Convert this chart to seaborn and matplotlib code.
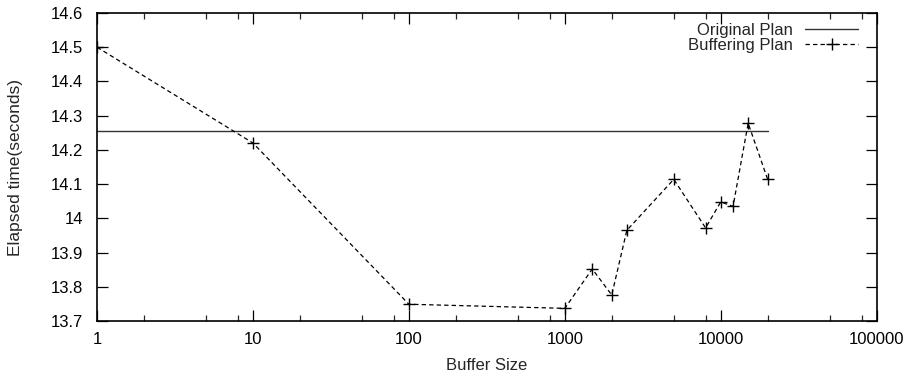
import matplotlib
matplotlib.use("Agg")
import matplotlib.pyplot as plt
import matplotlib.ticker as mticker
import seaborn as sns
import pandas as pd

buffer_sizes = [1, 10, 100, 1000, 1500, 2000, 2500, 5000, 8000, 10000, 12000, 15000, 20000]
buffering_times = [14.50, 14.22, 13.749, 13.737, 13.852, 13.776, 13.965, 14.114, 13.972, 14.048, 14.035, 14.278, 14.114]
original_x = [1, 20000]
original_times = [14.255, 14.255]
x_ticks = [1, 10, 100, 1000, 10000, 100000]
x_tick_labels = ["1", "10", "100", "1000", "10000", "100000"]
y_ticks = [13.7, 13.8, 13.9, 14.0, 14.1, 14.2, 14.3, 14.4, 14.5, 14.6]
y_tick_labels = ["13.7", "13.8", "13.9", "14", "14.1", "14.2", "14.3", "14.4", "14.5", "14.6"]

sns.set_theme(style="ticks")
plt.rcParams["font.family"] = ["Liberation Sans", "DejaVu Sans"]

fig = plt.figure(figsize=(9.16, 3.77), dpi=100)
ax = fig.add_axes([0.106, 0.1485, 0.851, 0.817])

df_orig = pd.DataFrame({"x": original_x, "y": original_times})
df_buf = pd.DataFrame({"x": buffer_sizes, "y": buffering_times})

sns.lineplot(data=df_orig, x="x", y="y", ax=ax, color="#333333", linewidth=1.0,
             label="Original Plan")
sns.lineplot(data=df_buf, x="x", y="y", ax=ax, color="black", linewidth=0.9,
             linestyle=(0, (3.5, 2.5)), marker="+", markersize=8, markeredgewidth=1.0,
             markeredgecolor="black", label="Buffering Plan")

ax.set_xscale("log")
ax.set_xlim(1, 100000)
ax.set_ylim(13.7, 14.6)
ax.set_xticks(x_ticks)
ax.set_xticklabels(x_tick_labels)
ax.xaxis.set_minor_locator(mticker.LogLocator(base=10, subs=[2, 5, 8]))
ax.xaxis.set_minor_formatter(mticker.NullFormatter())
ax.set_yticks(y_ticks)
ax.set_yticklabels(y_tick_labels)

ax.tick_params(which="major", direction="in", length=8, width=0.9, top=True, right=True,
               labelsize=12, colors="black")
ax.tick_params(which="minor", direction="in", length=4, width=0.9, top=True, right=True)
ax.tick_params(axis="x", pad=8)
ax.tick_params(axis="y", pad=10)
for s in ax.spines.values():
    s.set_linewidth(1.2)
    s.set_color("black")

ax.set_xlabel("Buffer Size", fontsize=12, labelpad=8)
ax.set_ylabel("Elapsed time(seconds)", fontsize=12.5, labelpad=20)

leg = ax.legend(loc="upper right", frameon=False, markerfirst=False, fontsize=12,
                handlelength=3.2, handletextpad=0.7, borderaxespad=0.0, labelspacing=0.0,
                bbox_to_anchor=(0.985, 0.99))

fig.savefig("out.png", dpi=100)
